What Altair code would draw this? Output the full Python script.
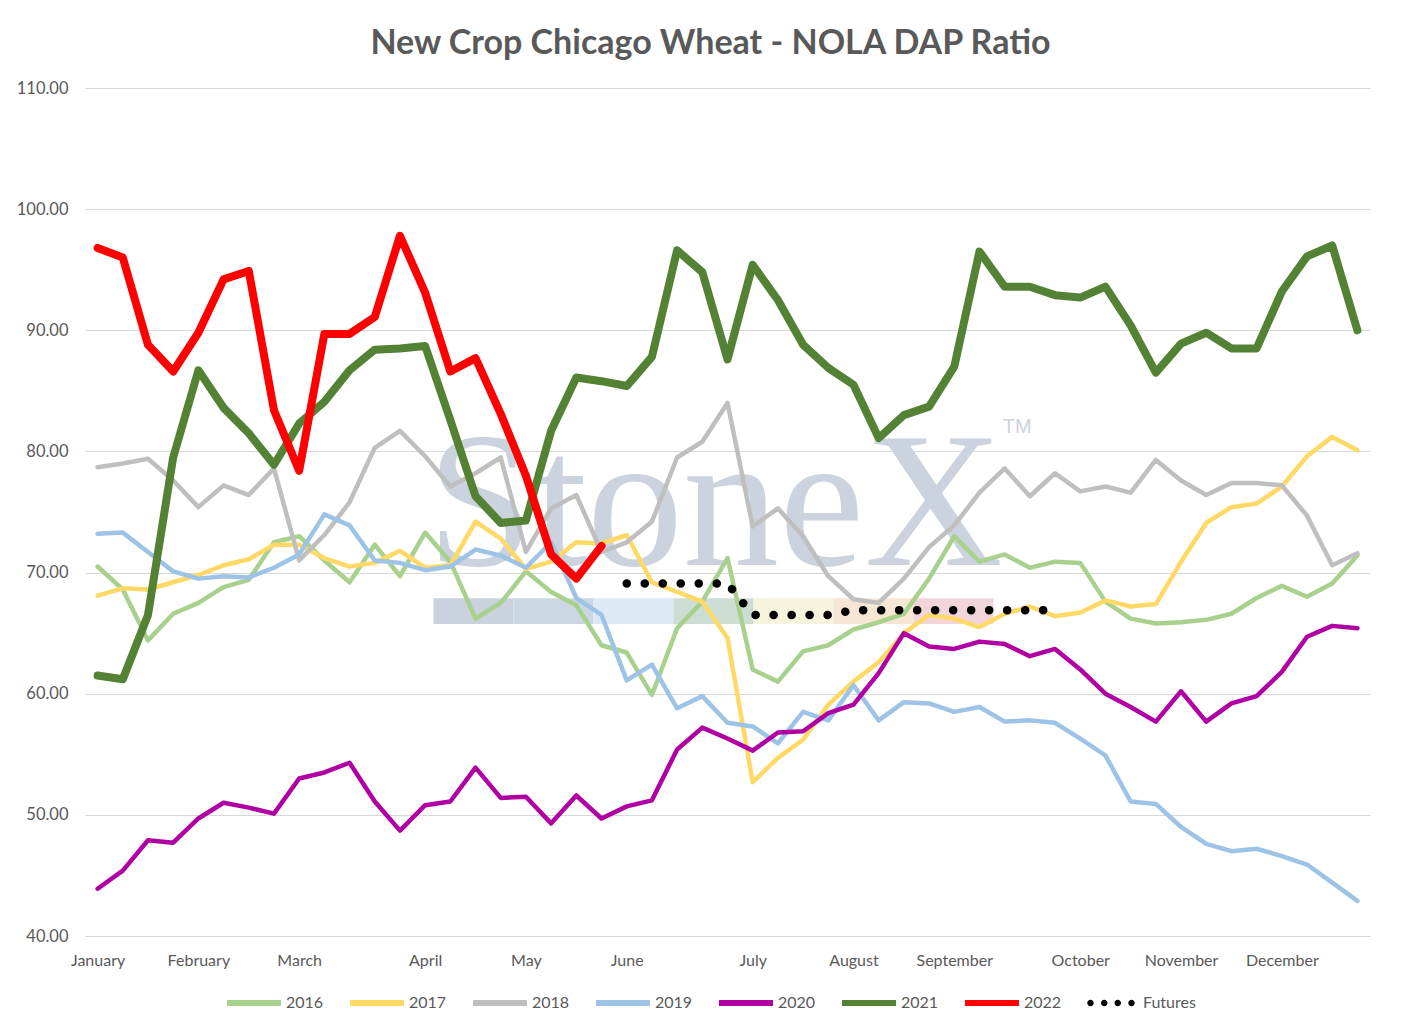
import altair as alt
import pandas as pd

# ---------------- data ----------------
months = ["January", "February", "March", "April", "May", "June", "July",
          "August", "September", "October", "November", "December"]
month_week = [0, 4, 8, 13, 17, 21, 26, 30, 34, 39, 43, 47]

y2016 = [70.5, 68.6, 64.4, 66.6, 67.5, 68.8, 69.4, 72.5, 73.0, 71.0, 69.2, 72.3, 69.7, 73.3, 70.9, 66.2, 67.5,
         70.1, 68.4, 67.3, 64.0, 63.4, 59.9, 65.4, 67.6, 71.2, 62.0, 61.0, 63.5, 64.0, 65.3, 65.9, 66.6, 69.5,
         73.0, 70.9, 71.5, 70.4, 70.9, 70.8, 67.6, 66.2, 65.8, 65.9, 66.1, 66.6, 67.9, 68.9, 68.0, 69.1, 71.4]
y2017 = [68.1, 68.7, 68.6, 69.2, 69.8, 70.6, 71.1, 72.3, 72.3, 71.2, 70.5, 70.8, 71.8, 70.4, 70.6, 74.2, 72.8,
         70.3, 70.9, 72.5, 72.4, 73.1, 69.2, 68.4, 67.6, 64.6, 52.7, 54.7, 56.2, 59.1, 61.0, 62.6, 65.0, 66.5,
         66.2, 65.5, 66.6, 67.2, 66.4, 66.7, 67.7, 67.2, 67.4, 70.9, 74.1, 75.4, 75.7, 77.1, 79.6, 81.2, 80.1]
y2018 = [78.7, 79.0, 79.4, 77.6, 75.4, 77.2, 76.4, 78.6, 71.0, 73.1, 75.8, 80.3, 81.7, 79.6, 77.1, 78.2, 79.5,
         71.7, 75.3, 76.4, 71.7, 72.5, 74.2, 79.5, 80.8, 84.0, 73.8, 75.3, 73.0, 69.7, 67.8, 67.5, 69.5, 72.1,
         73.9, 76.6, 78.6, 76.3, 78.2, 76.7, 77.1, 76.6, 79.3, 77.6, 76.4, 77.4, 77.4, 77.2, 74.7, 70.6, 71.6]
y2019 = [73.2, 73.3, 71.7, 70.1, 69.5, 69.7, 69.6, 70.4, 71.5, 74.8, 73.9, 71.0, 70.8, 70.2, 70.5, 71.9, 71.4,
         70.4, 72.5, 67.9, 66.5, 61.1, 62.4, 58.8, 59.8, 57.6, 57.3, 55.9, 58.5, 57.8, 60.7, 57.8, 59.3, 59.2,
         58.5, 58.9, 57.7, 57.8, 57.6, 56.3, 54.9, 51.1, 50.9, 49.0, 47.6, 47.0, 47.2, 46.6, 45.9, 44.4, 42.9]
y2020 = [43.9, 45.4, 47.9, 47.7, 49.7, 51.0, 50.6, 50.1, 53.0, 53.5, 54.3, 51.1, 48.7, 50.8, 51.1, 53.9, 51.4,
         51.5, 49.3, 51.6, 49.7, 50.7, 51.2, 55.4, 57.2, 56.3, 55.3, 56.8, 56.9, 58.4, 59.1, 61.7, 65.0, 63.9,
         63.7, 64.3, 64.1, 63.1, 63.7, 62.0, 60.0, 58.9, 57.7, 60.2, 57.7, 59.2, 59.8, 61.8, 64.7, 65.6, 65.4]
y2021 = [61.5, 61.2, 66.5, 79.5, 86.7, 83.6, 81.5, 78.9, 82.3, 84.1, 86.7, 88.4, 88.5, 88.7, 82.6, 76.3, 74.1,
         74.3, 81.7, 86.1, 85.8, 85.4, 87.8, 96.6, 94.8, 87.6, 95.4, 92.5, 88.8, 86.9, 85.5, 81.1, 83.0, 83.7,
         87.0, 96.5, 93.6, 93.6, 92.9, 92.7, 93.6, 90.4, 86.5, 88.9, 89.8, 88.5, 88.5, 93.2, 96.1, 97.0, 90.0]
y2022 = [96.8, 96.0, 88.8, 86.6, 89.8, 94.2, 94.9, 83.4, 78.4, 89.7, 89.7, 91.1, 97.8, 93.1, 86.6, 87.7, 83.1,
         78.0, 71.5, 69.5, 72.2]

futures_start_week = 21
futures = [69.1, 69.1, 69.1, 69.1, 69.1, 66.5, 66.5, 66.5, 66.5,
           66.9, 66.9, 66.9, 66.9, 66.9, 66.9, 66.9, 66.9, 66.9]

series_names = ["2016", "2017", "2018", "2019", "2020", "2021", "2022"]
series_values = [y2016, y2017, y2018, y2019, y2020, y2021, y2022]
series_colors = ["#A9D18E", "#FFD966", "#BFBFBF", "#9DC3E6", "#B000A4", "#548235", "#FF0000"]
series_widths = [4.5, 4.5, 4.5, 4.5, 4.5, 8, 8]

# watermark (StoneX logo behind the plot)
wm_text = [{"week": 24.5, "value": 70.6, "t": "StoneX", "size": 192, "font": "Liberation Serif"},
           {"week": 36.5, "value": 81.5, "t": "TM", "size": 20, "font": "Liberation Sans"}]
wm_colors = ["#C9D2DD", "#CCD7E4", "#DDE9F5", "#CCDDD3", "#F7F4DE", "#F8E6D4", "#F1D5DA"]
wm_bar_start, wm_bar_step, wm_bar_low, wm_bar_high = 13.33, 3.175, 65.75, 67.87

# ---------------- tables ----------------
rows = []
for name, vals in zip(series_names, series_values):
    for i, v in enumerate(vals):
        rows.append({"week": i, "value": v, "series": name})
df = pd.DataFrame(rows)

fut_df = pd.DataFrame({"week": [futures_start_week + i for i in range(len(futures))],
                       "value": futures, "label": "Futures"})

bar_df = pd.DataFrame({
    "x0": [wm_bar_start + k * wm_bar_step for k in range(len(wm_colors))],
    "x1": [wm_bar_start + (k + 1) * wm_bar_step for k in range(len(wm_colors))],
    "y0": [wm_bar_low] * len(wm_colors),
    "y1": [wm_bar_high] * len(wm_colors),
    "c": wm_colors,
})

# ---------------- encodings ----------------
FONT = "Lato"
TXT = "#595959"
GRID = "#D9D9D9"

label_expr = " : ".join(
    f"datum.value == {w} ? '{m}'" for w, m in zip(month_week, months)
) + " : ''"

x_scale = alt.Scale(domain=[-0.5, 50.5], nice=False, zero=False)
y_scale = alt.Scale(domain=[40, 110], nice=False, zero=False)

x_enc = alt.X("week:Q", scale=x_scale,
              axis=alt.Axis(values=month_week, labelExpr=label_expr, title=None, grid=False,
                            ticks=False, domainColor=GRID, domainWidth=1, labelPadding=16,
                            labelFontSize=16, labelColor=TXT, labelFont=FONT, labelFlush=False,
                            labelOverlap=False))
y_enc = alt.Y("value:Q", scale=y_scale,
              axis=alt.Axis(values=list(range(40, 111, 10)), format=".2f", title=None, grid=True,
                            gridColor=GRID, gridWidth=1, domain=False, ticks=False, labelPadding=17,
                            labelFontSize=16.5, labelColor=TXT, labelFont=FONT))

color_scale = alt.Scale(domain=series_names, range=series_colors)
color_legend = alt.Legend(orient="none", legendX=139, legendY=885, direction="horizontal",
                          title=None, symbolType="stroke", symbolSize=2916, symbolStrokeWidth=6,
                          labelFontSize=16, labelColor=TXT, labelFont=FONT, labelOffset=2,
                          columnPadding=14, padding=0, columns=7)

layers = []

# watermark bar
layers.append(
    alt.Chart(bar_df).mark_rect().encode(
        x=alt.X("x0:Q", scale=x_scale), x2="x1:Q",
        y=alt.Y("y0:Q", scale=y_scale), y2="y1:Q",
        fill=alt.Fill("c:N", scale=None),
    )
)
# watermark text
for rec in wm_text:
    layers.append(
        alt.Chart(pd.DataFrame([rec])).mark_text(
            font=rec["font"], fontSize=rec["size"], color="#CBD3DE", align="center",
            baseline="alphabetic"
        ).encode(x=alt.X("week:Q", scale=x_scale), y=alt.Y("value:Q", scale=y_scale), text="t:N")
    )

for name, w in zip(series_names, series_widths):
    layers.append(
        alt.Chart(df).transform_filter(alt.datum.series == name).mark_line(
            strokeWidth=w, strokeCap="round", strokeJoin="round"
        ).encode(x=x_enc, y=y_enc,
                 color=alt.Color("series:N", scale=color_scale, legend=color_legend))
    )

# futures dotted line
layers.append(
    alt.Chart(fut_df).mark_line(color="black", strokeWidth=8.5, strokeCap="round",
                                strokeDash=[0.1, 17.9]).encode(x=x_enc, y=y_enc)
)

# futures legend entry (four dots)
r = 0.12
def circ(cx):
    return f"M{cx - r},0a{r},{r} 0 1,0 {2 * r},0a{r},{r} 0 1,0 {-2 * r},0Z"
dots_path = "".join(circ(c) for c in [-0.76, -0.25, 0.25, 0.76])

layers.append(
    alt.Chart(fut_df).transform_filter("false").mark_point(
        filled=True, size=2916, color="black", opacity=1
    ).encode(
        x=x_enc, y=y_enc,
        shape=alt.Shape("label:N", scale=alt.Scale(domain=["Futures"], range=[dots_path]),
                        legend=alt.Legend(orient="none", legendX=999, legendY=888, title=None,
                                          labelFontSize=16, labelColor=TXT, labelFont=FONT,
                                          labelOffset=5, padding=0, symbolSize=2916,
                                          symbolFillColor="black", symbolStrokeWidth=0,
                                          symbolOpacity=1)),
    )
)

chart = alt.layer(*layers).properties(
    width=1285, height=848,
    title=alt.Title("New Crop Chicago Wheat - NOLA DAP Ratio", fontSize=34, font=FONT,
                    fontWeight="bold", color=TXT, anchor="middle", frame="group", dx=-17,
                    offset=19),
    autosize=alt.AutoSizeParams(type="none"),
    padding={"left": 77, "top": 80, "right": 40, "bottom": 90},
    background="white",
).configure_view(strokeWidth=0)

chart.save("out.html", embed_options={"renderer": "svg", "actions": False})
